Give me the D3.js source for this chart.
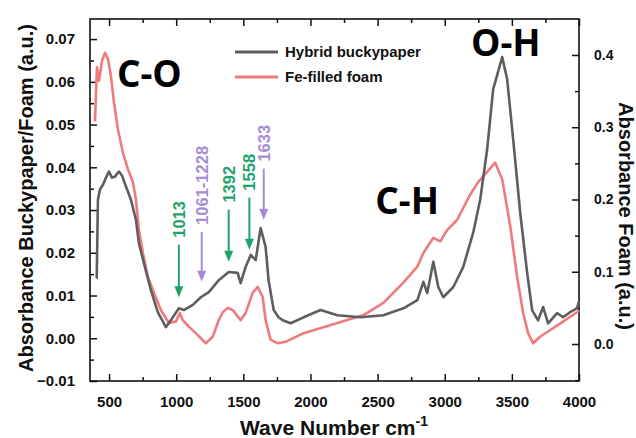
<!DOCTYPE html>
<html>
<head>
<meta charset="utf-8">
<script src="https://cdn.jsdelivr.net/npm/d3@7"></script>
<style>
  body { margin: 0; background: #fff; }
  svg text { font-family: "Liberation Sans", Arial, sans-serif; font-weight: bold; }
</style>
</head>
<body>
<div id="chart"></div>
<script>
'use strict';

// wave numbers (cm-1) and absorbance
const hybridWave = [405, 408, 417, 432, 455, 477, 499, 522, 544, 559, 574, 596, 626, 663, 700, 722, 759, 811, 863,
  923, 960, 1020, 1057, 1124, 1183, 1243, 1317, 1391, 1458, 1480, 1517, 1555, 1592, 1629, 1666, 1688, 1726, 1763,
  1793, 1852, 1949, 2075, 2201, 2372, 2543, 2692, 2796, 2841, 2870, 2915, 2952, 2989, 3064, 3138, 3212, 3264, 3316,
  3361, 3428, 3465, 3510, 3562, 3614, 3651, 3695, 3733, 3770, 3837, 3881, 3933, 3985, 4000];
const hybridAbs = [0.0141, 0.0141, 0.0324, 0.0348, 0.0359, 0.0376, 0.0390, 0.0376, 0.0378, 0.0385, 0.0390, 0.0381,
  0.0355, 0.0324, 0.0277, 0.0223, 0.0176, 0.0113, 0.0061, 0.0026, 0.0042, 0.0070, 0.0066, 0.0078, 0.0096, 0.0108,
  0.0136, 0.0155, 0.0153, 0.0129, 0.0167, 0.0195, 0.0183, 0.0258, 0.0214, 0.0136, 0.0066, 0.0049, 0.0042, 0.0035,
  0.0049, 0.0066, 0.0054, 0.0049, 0.0054, 0.0070, 0.0089, 0.0132, 0.0106, 0.0179, 0.0120, 0.0096, 0.0120, 0.0167,
  0.0247, 0.0324, 0.0442, 0.0583, 0.0658, 0.0606, 0.0465, 0.0294, 0.0153, 0.0066, 0.0042, 0.0073, 0.0035, 0.0059,
  0.0049, 0.0061, 0.0070, 0.0087];

const foamWave = [395, 410, 425, 447, 470, 492, 514, 536, 566, 603, 640, 678, 700, 722, 752, 789, 834, 886, 945, 997,
  1027, 1049, 1094, 1146, 1220, 1272, 1317, 1347, 1384, 1421, 1480, 1517, 1570, 1607, 1644, 1666, 1703, 1755, 1815,
  1949, 2201, 2395, 2543, 2692, 2796, 2841, 2915, 2967, 3019, 3093, 3190, 3249, 3301, 3376, 3428, 3488, 3539, 3584,
  3621, 3658, 3710, 3784, 3881, 3985, 4000];
const foamAbs = [0.308, 0.383, 0.364, 0.392, 0.403, 0.394, 0.371, 0.335, 0.297, 0.265, 0.242, 0.224, 0.200, 0.158,
  0.126, 0.093, 0.071, 0.047, 0.029, 0.031, 0.043, 0.033, 0.024, 0.015, 0.001, 0.010, 0.033, 0.044, 0.050, 0.047,
  0.033, 0.043, 0.071, 0.079, 0.065, 0.033, 0.006, 0.001, 0.003, 0.015, 0.029, 0.040, 0.057, 0.085, 0.107, 0.126,
  0.147, 0.142, 0.158, 0.172, 0.207, 0.224, 0.235, 0.251, 0.228, 0.163, 0.093, 0.043, 0.015, 0.001, 0.010, 0.019,
  0.031, 0.044, 0.046];

const seriesNames = ["Hybrid buckypaper", "Fe-filled foam"];
const seriesColors = ["#5e5e62", "#ee7b7b"];

const xTicks = [500, 1000, 1500, 2000, 2500, 3000, 3500, 4000];
const leftTicks = [-0.01, 0.00, 0.01, 0.02, 0.03, 0.04, 0.05, 0.06, 0.07];
const rightTicks = [0.0, 0.1, 0.2, 0.3, 0.4];

// peak markers: wave number, label, arrow top and tip on the left axis
const peakWave = [1020, 1190, 1391, 1545, 1652];
const peakLabel = ["1013", "1061-1228", "1392", "1558", "1633"];
const peakTop = [0.0219, 0.0249, 0.0301, 0.0329, 0.0397];
const peakTip = [0.0096, 0.0132, 0.0179, 0.0207, 0.0277];
const peakKind = ["g", "p", "g", "g", "p"];
const peakColors = {g: "#1fa36b", p: "#a68cd6"};

// band labels
const bandText = ["C-O", "C-H", "O-H"];
const bandWave = [800, 2720, 3455];
const bandAbs = [0.0585, 0.0289, 0.0658];

const W = 636, H = 438;
const box = {left: 90, right: 579, top: 19, bottom: 381};

const svg = d3.select('#chart').append('svg')
  .attr('width', W).attr('height', H);

const x = d3.scaleLinear().domain([358, 4000]).range([box.left, box.right]);
const yL = d3.scaleLinear().domain([-0.01, 0.0747]).range([box.bottom, box.top]);
const yR = d3.scaleLinear().domain([-0.0512, 0.4498]).range([box.bottom, box.top]);

// minor ticks sit half way between major ones
const xMinor = d3.range(750, 4000, 500);
const leftMinor = d3.range(-0.005, 0.075, 0.01);
const rightMinor = [-0.05, 0.05, 0.15, 0.25, 0.35];

function tickLines(axis) {
  return g => {
    g.call(axis);
    g.select('.domain').remove();
    g.selectAll('line').attr('stroke', '#111').attr('stroke-width', 1.5);
    g.selectAll('text').attr('font-size', 15).attr('fill', '#111');
  };
}

// bottom axis
svg.append('g').attr('transform', `translate(0,${box.bottom})`)
  .call(tickLines(d3.axisBottom(x).tickValues(xTicks).tickSize(-7).tickPadding(15).tickFormat(d3.format('d'))));
svg.append('g').attr('transform', `translate(0,${box.bottom})`)
  .call(tickLines(d3.axisBottom(x).tickValues(xMinor).tickSize(-4).tickFormat('')));
// top axis
svg.append('g').attr('transform', `translate(0,${box.top})`)
  .call(tickLines(d3.axisTop(x).tickValues(xTicks).tickSize(-7).tickFormat('')));
svg.append('g').attr('transform', `translate(0,${box.top})`)
  .call(tickLines(d3.axisTop(x).tickValues(xMinor).tickSize(-4).tickFormat('')));
// left axis
svg.append('g').attr('transform', `translate(${box.left},0)`)
  .call(tickLines(d3.axisLeft(yL).tickValues(leftTicks).tickSize(-7).tickPadding(15).tickFormat(d3.format('.2f'))));
svg.append('g').attr('transform', `translate(${box.left},0)`)
  .call(tickLines(d3.axisLeft(yL).tickValues(leftMinor).tickSize(-4).tickFormat('')));
// right axis
svg.append('g').attr('transform', `translate(${box.right},0)`)
  .call(tickLines(d3.axisRight(yR).tickValues(rightTicks).tickSize(-7).tickPadding(15).tickFormat(d3.format('.1f'))))
  .selectAll('text').attr('font-size', 14);
svg.append('g').attr('transform', `translate(${box.right},0)`)
  .call(tickLines(d3.axisRight(yR).tickValues(rightMinor).tickSize(-4).tickFormat('')));

svg.append('rect')
  .attr('x', box.left).attr('y', box.top)
  .attr('width', box.right - box.left).attr('height', box.bottom - box.top)
  .attr('fill', 'none').attr('stroke', '#111').attr('stroke-width', 1.6);

// curves
const lineL = d3.line().x(d => x(d[0])).y(d => yL(d[1]));
const lineR = d3.line().x(d => x(d[0])).y(d => yR(d[1]));

svg.append('path')
  .datum(d3.zip(foamWave, foamAbs))
  .attr('d', lineR)
  .attr('fill', 'none').attr('stroke', seriesColors[1]).attr('stroke-width', 2.6)
  .attr('stroke-linejoin', 'round');

svg.append('path')
  .datum(d3.zip(hybridWave, hybridAbs))
  .attr('d', lineL)
  .attr('fill', 'none').attr('stroke', seriesColors[0]).attr('stroke-width', 2.6)
  .attr('stroke-linejoin', 'round');

// peak arrows
const peaks = peakWave.map((w, i) => ({w, label: peakLabel[i], top: peakTop[i], tip: peakTip[i], color: peakColors[peakKind[i]]}));

const arrows = svg.append('g').selectAll('g').data(peaks).enter().append('g');
arrows.append('line')
  .attr('x1', d => x(d.w)).attr('x2', d => x(d.w))
  .attr('y1', d => yL(d.top)).attr('y2', d => yL(d.tip) - 8)
  .attr('stroke', d => d.color).attr('stroke-width', 2);
arrows.append('path')
  .attr('d', d => {
    const px = x(d.w), py = yL(d.tip);
    return `M${px},${py}L${px - 4.5},${py - 11}L${px + 4.5},${py - 11}Z`;
  })
  .attr('fill', d => d.color);
arrows.append('text')
  .attr('transform', d => `translate(${x(d.w)},${yL(d.top) - 7}) rotate(-90)`)
  .attr('dy', '0.36em')
  .attr('font-size', 16.5)
  .style('font-weight', 600)
  .attr('fill', d => d.color)
  .text(d => d.label);

// band labels
svg.append('g').selectAll('text').data(bandText).enter().append('text')
  .attr('x', (d, i) => x(bandWave[i]))
  .attr('y', (d, i) => yL(bandAbs[i]) - 1)
  .attr('text-anchor', 'middle')
  .attr('font-size', 37)
  .attr('fill', '#000')
  .style('font-family', '"Open Sans", "Liberation Sans", sans-serif')
  .text(d => d);

// legend
const legend = svg.append('g').selectAll('g').data(seriesNames).enter().append('g')
  .attr('transform', (d, i) => `translate(235,${52 + i * 25})`);
legend.append('line')
  .attr('x1', 0).attr('x2', 43)
  .attr('stroke', (d, i) => seriesColors[i]).attr('stroke-width', 3);
legend.append('text')
  .attr('x', 50).attr('dy', '0.35em')
  .attr('font-size', 15).attr('fill', '#111')
  .text(d => d);

// axis titles
svg.append('text')
  .attr('transform', `translate(33,198) rotate(-90)`)
  .attr('text-anchor', 'middle')
  .attr('font-size', 20).attr('fill', '#111')
  .text('Absorbance Buckypaper/Foam (a.u.)');

svg.append('text')
  .attr('transform', `translate(619,216) rotate(90)`)
  .attr('text-anchor', 'middle')
  .attr('font-size', 20).attr('fill', '#111')
  .text('Absorbance Foam (a.u.)');

const xTitle = svg.append('text')
  .attr('x', 334).attr('y', 435)
  .attr('text-anchor', 'middle')
  .attr('font-size', 21).attr('fill', '#111');
xTitle.append('tspan').text('Wave Number cm');
xTitle.append('tspan').attr('dy', -9).attr('font-size', 14).text('-1');
</script>
</body>
</html>
